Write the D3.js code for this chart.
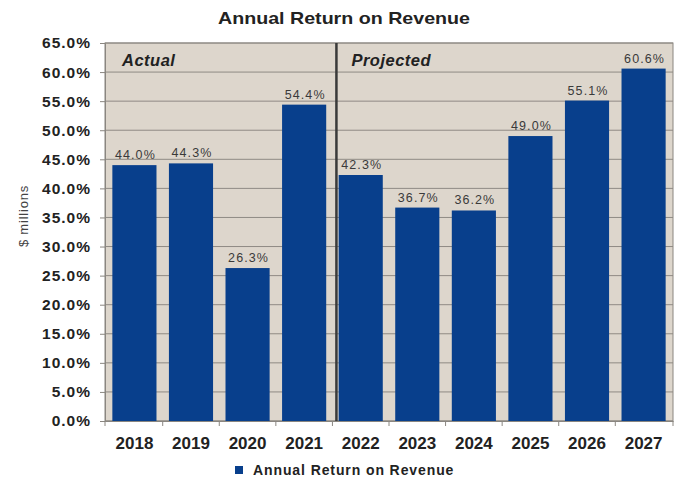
<!DOCTYPE html>
<html><head><meta charset="utf-8">
<script src="https://cdn.jsdelivr.net/npm/d3@7"></script>
<style>body{margin:0;background:#fff}svg{display:block;font-family:"Liberation Sans",Arial,sans-serif}</style>
</head><body>
<svg id="c" width="682" height="479"></svg>
<script>
const years = ["2018","2019","2020","2021","2022","2023","2024","2025","2026","2027"];
const values = [44.0,44.3,26.3,54.4,42.3,36.7,36.2,49.0,55.1,60.6];
const yTicks = [0,5,10,15,20,25,30,35,40,45,50,55,60,65];
const seriesName = "Annual Return on Revenue";
const phases = [{label:"Actual", start:"2018"},{label:"Projected", start:"2022"}];

const svg = d3.select("#c");
const m = {l:105, r:673, t:43, b:421};
const x = d3.scaleBand().domain(years).range([m.l, m.r]).paddingInner(0.22).paddingOuter(0.13);
const y = d3.scaleLinear().domain([0,65]).range([m.b, m.t]);
const FF = "Liberation Sans, Arial, sans-serif";

svg.append("rect").attr("x",m.l).attr("y",m.t).attr("width",m.r-m.l).attr("height",m.b-m.t)
  .attr("fill","#ddd6cc").attr("stroke","#8a8680").attr("stroke-width",1);

svg.append("g").selectAll("line").data(yTicks).join("line")
  .attr("x1",m.l).attr("x2",m.r).attr("y1",d=>y(d)).attr("y2",d=>y(d))
  .attr("stroke","#8f8a84").attr("stroke-width",1);

svg.append("g").selectAll("rect").data(years).join("rect")
  .attr("x",d=>x(d)).attr("width",x.bandwidth())
  .attr("y",(d,i)=>y(values[i])).attr("height",(d,i)=>y(0)-y(values[i]))
  .attr("fill","#083f8c");

svg.append("g").selectAll("text").data(years).join("text")
  .attr("x",d=>x(d)+x.bandwidth()/2+1).attr("y",(d,i)=>y(values[i])-6)
  .attr("text-anchor","middle").attr("font-size",12.5).attr("letter-spacing",1.1).attr("fill","#3a3a3a")
  .text((d,i)=>values[i].toFixed(1)+"%");

// divider
const step = x.step();
const divX = x("2022") - x.paddingInner()*step/2 + 4;
svg.append("line").attr("x1",divX).attr("x2",divX).attr("y1",m.t).attr("y2",m.b)
  .attr("stroke","#3a3a3a").attr("stroke-width",2.5);

// phase labels
svg.append("g").selectAll("text").data(phases).join("text")
  .attr("x",(d,i)=> i===0 ? m.l+17 : divX+15).attr("y",66)
  .attr("font-size",16.5).attr("letter-spacing",0.5).attr("font-weight","bold").attr("font-style","italic").attr("fill","#222")
  .text(d=>d.label);

// y axis
const ya = svg.append("g").attr("transform",`translate(${m.l},0)`)
  .call(d3.axisLeft(y).tickValues(yTicks).tickFormat(d=>d.toFixed(1)+"%").tickSize(5).tickPadding(9));
ya.select(".domain").attr("stroke","#8a8680");
ya.selectAll(".tick line").attr("stroke","#8a8680");
ya.selectAll("text").attr("font-size",15.5).attr("letter-spacing",1).attr("font-weight","bold").attr("fill","#222").attr("font-family",FF);

// x axis
const xa = svg.append("g").attr("transform",`translate(0,${m.b})`)
  .call(d3.axisBottom(x).tickSize(0).tickPadding(16));
xa.select(".domain").attr("stroke","#8a8680");
xa.selectAll("text").attr("font-size",17).attr("font-weight","bold").attr("fill","#222").attr("font-family",FF);
const bounds = years.slice(1).map(d=>x(d)-x.paddingInner()*step/2);
svg.append("g").selectAll("line").data([m.l,...bounds,m.r]).join("line")
  .attr("x1",d=>d).attr("x2",d=>d).attr("y1",m.b).attr("y2",m.b+5).attr("stroke","#8a8680");

// title
svg.append("text").attr("x",344).attr("y",24).attr("text-anchor","middle")
  .attr("font-size",17).attr("textLength",252).attr("lengthAdjust","spacingAndGlyphs")
  .attr("font-weight","bold").attr("fill","#222").text(seriesName);

// y label
svg.append("text").attr("transform","translate(28,216) rotate(-90)").attr("text-anchor","middle")
  .attr("font-size",13).attr("letter-spacing",0.8).attr("fill","#444").text("$ millions");

// legend
svg.append("rect").attr("x",235).attr("y",466).attr("width",8).attr("height",8).attr("fill","#083f8c");
svg.append("text").attr("x",253).attr("y",474.5).attr("font-size",14).attr("letter-spacing",0.9).attr("font-weight","bold").attr("fill","#222").text(seriesName);
</script>
</body></html>
